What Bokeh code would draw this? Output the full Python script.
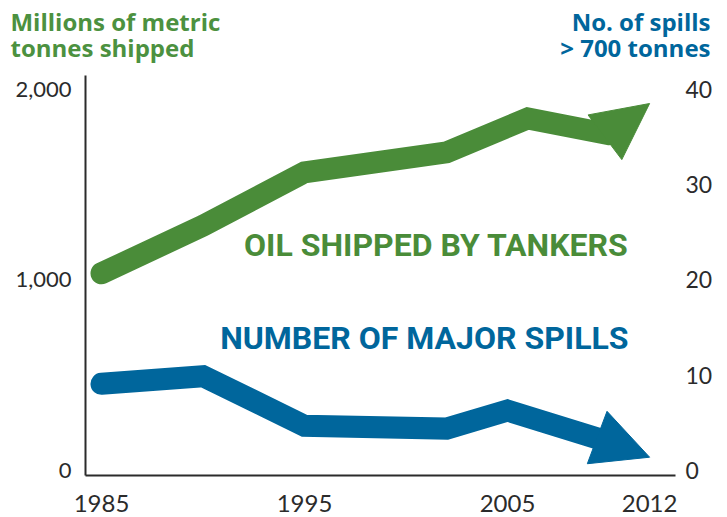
from bokeh.plotting import figure
from bokeh.models import (Range1d, LinearAxis, FixedTicker, NumeralTickFormatter,
                          Label, Arrow, NormalHead)
from bokeh.embed import file_html
from bokeh.resources import INLINE

# ---- data ----
oil_years = [1985, 1990, 1995, 2002, 2006, 2010, 2012]
oil_tonnes = [1035, 1285, 1565, 1670, 1848, 1765, 1926]      # millions of metric tonnes

spill_years = [1985, 1990, 1995, 2002, 2005, 2010, 2012]
spill_counts = [9.1, 9.9, 4.7, 4.4, 6.3, 3.0, 1.4]            # spills > 700 tonnes

x_ticks = [1985, 1995, 2005, 2012]
left_ticks = [0, 1000, 2000]
right_ticks = [0, 10, 20, 30, 40]

left_title = ["Millions of metric", "tonnes shipped"]
right_title = ["No. of spills", "> 700 tonnes"]
oil_label = "OIL SHIPPED BY TANKERS"
spill_label = "NUMBER OF MAJOR SPILLS"

GREEN = "#4a8c39"
TITLE_GREEN = "#4c9140"
BLUE = "#00669c"
DARK = "#2b2b2b"

W, H = 723, 516
# axes box (data units)
X0, X1 = 1984.212, 2013.276
Y0, Y1 = -26, 2073
SPILL_SCALE = 50  # 40 spills <-> 2000 million tonnes

p = figure(width=W, height=H,
           x_range=Range1d(1980.025, 2015.640), y_range=Range1d(-241.15, 2466.56),
           output_backend="svg", toolbar_location=None, min_border=0)
p.extra_y_ranges = {"spills": Range1d(-241.15 / SPILL_SCALE, 2466.56 / SPILL_SCALE)}
p.xgrid.visible = False
p.ygrid.visible = False
p.outline_line_color = None

# bottom axis
xa = p.xaxis[0]
xa.fixed_location = Y0
xa.bounds = (X0, X1)
xa.ticker = FixedTicker(ticks=x_ticks)
xa.axis_line_color = DARK
xa.axis_line_width = 2
xa.major_tick_line_color = None
xa.minor_tick_line_color = None
xa.major_tick_out = 0
xa.major_tick_in = 0
xa.major_label_standoff = 20
xa.major_label_text_font = "Lato"
xa.major_label_text_font_size = "24px"
xa.major_label_text_color = DARK

# left axis
ya = p.yaxis[0]
ya.fixed_location = X0
ya.bounds = (Y0, Y1)
ya.ticker = FixedTicker(ticks=left_ticks)
ya.formatter = NumeralTickFormatter(format="0,0")
ya.axis_line_color = DARK
ya.axis_line_width = 2
ya.major_tick_line_color = None
ya.minor_tick_line_color = None
ya.major_tick_out = 0
ya.major_tick_in = 0
ya.major_label_standoff = 14
ya.major_label_text_font = "Lato"
ya.major_label_text_font_size = "22px"
ya.major_label_text_color = DARK

# right axis
ra = LinearAxis(y_range_name="spills", ticker=FixedTicker(ticks=right_ticks),
                fixed_location=X1)
ra.axis_line_color = None
ra.major_tick_line_color = None
ra.minor_tick_line_color = None
ra.major_tick_out = 0
ra.major_tick_in = 0
ra.major_label_standoff = 10
ra.major_label_text_font = "Lato"
ra.major_label_text_font_size = "23px"
ra.major_label_text_color = DARK
p.add_layout(ra, "right")

# oil line + arrow
p.line(oil_years[:-1], oil_tonnes[:-1], line_width=22, line_color=GREEN,
       line_cap="round", line_join="miter")
p.add_layout(Arrow(end=NormalHead(size=56, fill_color=GREEN, line_color=GREEN),
                   x_start=oil_years[-2], y_start=oil_tonnes[-2],
                   x_end=oil_years[-1], y_end=oil_tonnes[-1],
                   line_color=None))

# spills line + arrow
p.line(spill_years[:-1], spill_counts[:-1], line_width=22, line_color=BLUE,
       line_cap="round", line_join="miter", y_range_name="spills")
p.add_layout(Arrow(end=NormalHead(size=56, fill_color=BLUE, line_color=BLUE),
                   x_start=spill_years[-2], y_start=spill_counts[-2],
                   x_end=spill_years[-1], y_end=spill_counts[-1],
                   line_color=None, y_range_name="spills"))

# series labels
p.add_layout(Label(x=2010.961, y=1186, text=oil_label,
                   text_align="right", text_baseline="alphabetic",
                   text_font="Roboto", text_font_style="bold", text_font_size="32px",
                   text_color=GREEN))
p.add_layout(Label(x=2010.961, y=693, text=spill_label,
                   text_align="right", text_baseline="alphabetic",
                   text_font="Roboto", text_font_style="bold", text_font_size="32px",
                   text_color=BLUE))

# axis titles (top corners)
TL_X = 1980.517
TR_X = 2015.0
TITLE_Y = [2356, 2220]
for t, ty in zip(left_title, TITLE_Y):
    p.add_layout(Label(x=TL_X, y=ty, text=t,
                       text_align="left", text_baseline="alphabetic",
                       text_font="Open Sans", text_font_style="bold", text_font_size="24px",
                       text_color=TITLE_GREEN))
for t, ty in zip(right_title, TITLE_Y):
    p.add_layout(Label(x=TR_X, y=ty, text=t,
                       text_align="right", text_baseline="alphabetic",
                       text_font="Open Sans", text_font_style="bold", text_font_size="24px",
                       text_color=BLUE))

open("out.html", "w").write(file_html(p, INLINE))
